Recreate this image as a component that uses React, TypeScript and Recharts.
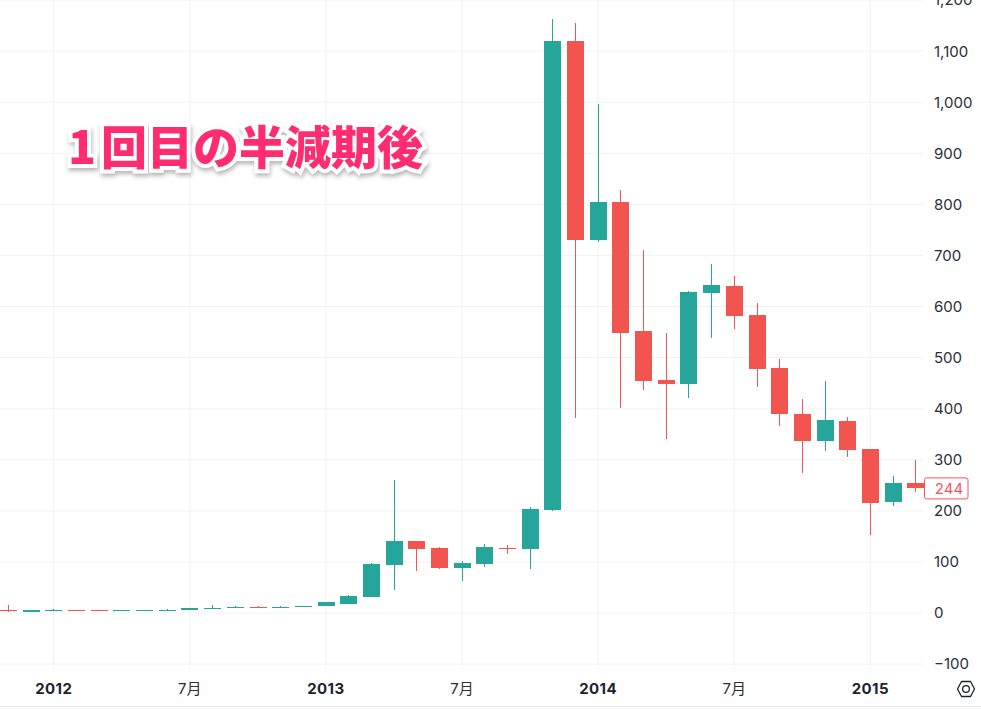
import React from "react";
import { ComposedChart, Bar, XAxis, YAxis, CartesianGrid, ReferenceLine } from "recharts";

const months = [
  "2011-11","2011-12",
  "2012-01","2012-02","2012-03","2012-04","2012-05","2012-06","2012-07","2012-08","2012-09","2012-10","2012-11","2012-12",
  "2013-01","2013-02","2013-03","2013-04","2013-05","2013-06","2013-07","2013-08","2013-09","2013-10","2013-11","2013-12",
  "2014-01","2014-02","2014-03","2014-04","2014-05","2014-06","2014-07","2014-08","2014-09","2014-10","2014-11","2014-12",
  "2015-01","2015-02","2015-03",
];
const opens = [5,3,5,6,5.6,4.9,5,5.2,6.6,9.3,10,12.4,11,12.5,14,18,32,95,141.5,128,88.7,96.5,127.5,126,202,1120,730,805,552,456,449,627,640,583,480,390,337,376,322,218,255];
const closes = [4,5,6,5,4.6,5.2,5.2,6.6,9.3,10,12.4,11,12.6,13.5,21,34,96.5,141.5,126,88.7,98.4,129.7,126,204,1120,730,805,548,454.5,449,629,642,581,478,390,337,378,320,216,255,244];
const highs = [16,6.5,7.5,6.5,6,5.6,5.6,8,9.6,16,13,13.5,13.5,14,21.5,36,98.4,261,141.5,129.7,102,135.6,133.6,208,1163,1155,997,828,711,548,630,683,660,607,497,419,455,384,322,269,299];
const lows = [3,3,5,4.5,4.4,4.8,4.9,5,6.5,8,10,10.5,11,12.5,13.5,18,32,45.6,83,86.7,63,90.6,116,86.7,200,382,726,402,437,341,421,539,556,443,367,275,317,306,153,210,237];

const yTicks = [-100,0,100,200,300,400,500,600,700,800,900,1000,1100,1200];
const xTicks = ["2012-01","2012-07","2013-01","2013-07","2014-01","2014-07","2015-01"];
const lastPrice = 244;
const titleDigit = "1";
const titleRest = "回目の半減期後";

const UP = "#26A69A";
const DOWN = "#F25450";
const GRID = "#F1F2F4";
const FONT = "Inter, 'Noto Sans CJK JP', sans-serif";

const rows = months.map((m, i) => ({
  month: m,
  open: opens[i],
  close: closes[i],
  range: [lows[i], highs[i]],
}));

function Candle(props: any) {
  const { x, y, width, height, payload } = props;
  const [lo, hi] = payload.range;
  const k = height / (hi - lo);
  const py = (v: number) => y + (hi - v) * k;
  const color = payload.close >= payload.open ? UP : DOWN;
  const top = Math.round(py(Math.max(payload.open, payload.close)));
  const bottom = Math.round(py(Math.min(payload.open, payload.close)));
  const left = Math.round(x);
  const cx = left + width / 2;
  return (
    <g>
      <line x1={cx} x2={cx} y1={Math.round(y)} y2={Math.round(y + height)} stroke={color} strokeWidth={1} />
      <rect x={left} y={top} width={width} height={Math.max(bottom - top, 1)} fill={color} />
    </g>
  );
}

function XTick(props: any) {
  const { x, y, payload } = props;
  const [yy, mm] = String(payload.value).split("-");
  const isYear = mm === "01";
  return (
    <text
      x={x}
      y={y + 12}
      textAnchor="middle"
      dominantBaseline="central"
      fontFamily={FONT}
      fontSize={15}
      fontWeight={isYear ? 700 : 400}
      fill={isYear ? "#1E222D" : "#2A2E39"}
      letterSpacing={isYear ? 0.4 : 0}
    >
      {isYear ? yy : `${Number(mm)}月`}
    </text>
  );
}

function formatY(v: number) {
  if (v < 0) return `\u2212${Math.abs(v)}`;
  return v.toLocaleString("en-US");
}

function PriceTag(props: any) {
  const { viewBox } = props;
  const right = viewBox.x + viewBox.width;
  return (
    <g>
      <rect x={right + 1.5} y={viewBox.y - 10.5} width={43.5} height={21} rx={2} fill="#fff" stroke="#F7525F" strokeWidth={1} />
      <text x={right + 26} y={viewBox.y + 0.5} textAnchor="middle" dominantBaseline="central" fontFamily={FONT} fontSize={15} fill="#F7525F">
        {lastPrice}
      </text>
    </g>
  );
}

export default function App() {
  return (
    <div style={{ position: "absolute", left: 0, top: 0, width: 981, height: 709, overflow: "hidden", background: "#fff" }}>
      <ComposedChart
        width={981}
        height={709}
        data={rows}
        margin={{ top: 0, right: 0, bottom: 0, left: 0 }}
      >
        <CartesianGrid stroke={GRID} strokeWidth={1} syncWithTicks />
        <XAxis
          dataKey="month"
          ticks={xTicks}
          interval={0}
          height={39}
          axisLine={false}
          tickLine={false}
          tickMargin={0}
          padding={{ left: -3, right: -4 }}
          tick={<XTick />}
        />
        <YAxis
          orientation="right"
          width={58}
          domain={[-111.5, 1200.2]}
          ticks={yTicks}
          interval={0}
          allowDataOverflow
          axisLine={false}
          tickLine={false}
          tickMargin={5}
          tickFormatter={formatY}
          tick={{ fontFamily: FONT, fontSize: 15, fill: "#2A2E39" }}
        />
        <Bar dataKey="range" barSize={17} isAnimationActive={false} shape={<Candle />} />
        <ReferenceLine y={lastPrice} stroke="none" label={<PriceTag />} />
      </ComposedChart>

      <div style={{ position: "absolute", left: 0, right: 0, top: 706, height: 1, background: "#E9EAEC" }} />

      <svg width={22} height={22} viewBox="0 0 22 22" style={{ position: "absolute", left: 955, top: 678 }}>
        <polygon points="6.5,3.5 15.5,3.5 19.5,11 15.5,18.5 6.5,18.5 2.5,11" fill="none" stroke="#1E222D" strokeWidth={1.3} strokeLinejoin="round" />
        <circle cx={11} cy={11} r={3.4} fill="none" stroke="#1E222D" strokeWidth={1.3} />
      </svg>

      <div
        style={{
          position: "absolute",
          left: 68,
          top: 109,
          fontFamily: "'Noto Sans CJK JP', sans-serif",
          fontWeight: 900,
          fontSize: 46,
          lineHeight: "70px",
          whiteSpace: "nowrap",
          color: "#FF2D6F",
          WebkitTextStroke: "8px #fff",
          paintOrder: "stroke fill",
          filter: "drop-shadow(1px 3px 2px rgba(0,0,0,0.28))",
        } as React.CSSProperties}
      >
        <span style={{ marginRight: 5 }}>{titleDigit}</span>
        {titleRest}
      </div>
    </div>
  );
}
